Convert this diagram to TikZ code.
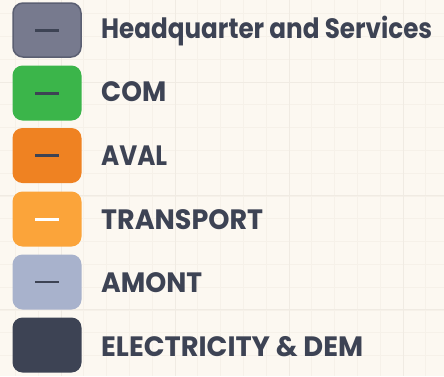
\documentclass[tikz,border=0pt]{standalone}
\usepackage{graphicx}
\usepackage{fontspec}
\setmainfont{Poppins}
\definecolor{bgc}{HTML}{FCF8F1}
\definecolor{gridminor}{HTML}{F6F1E9}
\definecolor{gridmajor}{HTML}{F0EBE3}
\definecolor{ink}{HTML}{3D4354}
\definecolor{hqfill}{HTML}{777A8E}
\definecolor{hqdraw}{HTML}{5B5F72}
\definecolor{comfill}{HTML}{3BB54A}
\definecolor{avalfill}{HTML}{EF8222}
\definecolor{trfill}{HTML}{FBA43A}
\definecolor{amfill}{HTML}{A8B2CC}
\definecolor{elfill}{HTML}{3D4354}
\newcommand{\fitw}[2]{\resizebox{#1}{\height}{#2}}
\tikzset{
  swatch/.style={rounded corners=10pt, minimum width=69pt, minimum height=55pt, inner sep=0pt, anchor=center},
  label/.style={anchor=base west, inner sep=0pt, text=ink, font=\fontsize{28}{30}\selectfont\bfseries},
  dashmark/.style={line width=3pt, draw=ink},
}
\begin{document}
\begin{tikzpicture}[x=1pt,y=-1pt]
\fill[bgc] (0,0) rectangle (444,376);
\useasboundingbox (0,0) rectangle (444,376);
% grid
\foreach \i in {-7,...,12} {
  \draw[gridminor, line width=0.8pt] ({175+\i*22.8},0) -- ({175+\i*22.8},376);
}
\foreach \j in {-3,...,13} {
  \draw[gridminor, line width=0.8pt] (0,{82+\j*22.8}) -- (444,{82+\j*22.8});
}
\foreach \i in {-1,0,1,2} {
  \draw[gridmajor, line width=1pt] ({175+\i*114},0) -- ({175+\i*114},376);
}
\foreach \j in {0,1,2} {
  \draw[gridmajor, line width=1pt] (0,{82+\j*113.5}) -- (444,{82+\j*113.5});
}
% swatches
\node[swatch, fill=hqfill, draw=hqdraw, line width=1.5pt, minimum width=68pt, minimum height=54pt] (s1) at (47,30) {};
\node[swatch, fill=comfill] (s2) at (47,93) {};
\node[swatch, fill=avalfill] (s3) at (47,155.5) {};
\node[swatch, fill=trfill] (s4) at (47,219) {};
\node[swatch, fill=amfill] (s5) at (47,282) {};
\node[swatch, fill=elfill] (s6) at (47,345) {};
% dashes
\draw[dashmark] ([xshift=-12pt]s1.center) -- ([xshift=12pt]s1.center);
\draw[dashmark] ([xshift=-12pt]s2.center) -- ([xshift=12pt]s2.center);
\draw[dashmark] ([xshift=-12pt]s3.center) -- ([xshift=12pt]s3.center);
\draw[dashmark, draw=white] ([xshift=-12pt]s4.center) -- ([xshift=12pt]s4.center);
\draw[dashmark, line width=2pt] ([xshift=-12pt]s5.center) -- ([xshift=12pt]s5.center);
% labels
\node[label] (t1) at (101,38.3) {\fitw{331pt}{Headquarter and Services}};
\node[label] (t2) at (101,101.7) {\fitw{65pt}{COM}};
\node[label] (t3) at (101,165) {\fitw{66pt}{AVAL}};
\node[label] (t4) at (101,229.3) {\fitw{162pt}{TRANSPORT}};
\node[label] (t5) at (101,292.3) {\fitw{101pt}{AMONT}};
\node[label] (t6) at (101,356) {\fitw{262pt}{ELECTRICITY \& DEM}};
\end{tikzpicture}
\end{document}
